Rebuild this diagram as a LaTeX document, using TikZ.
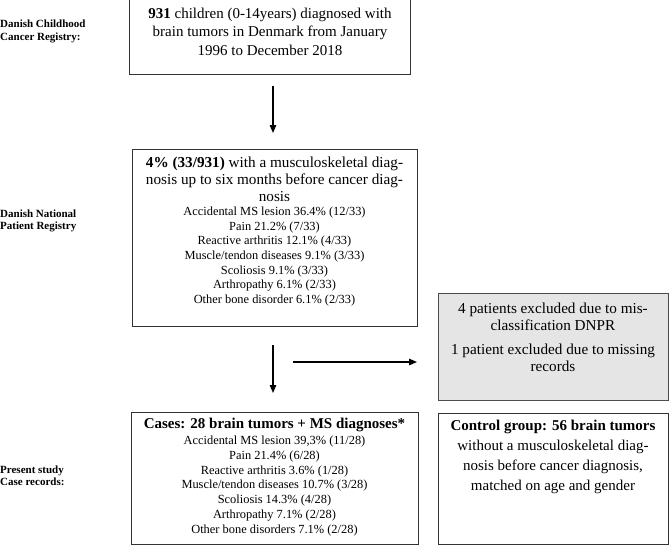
\documentclass[tikz,border=0pt]{standalone}
\usepackage{fontspec}
\setmainfont{Liberation Serif}
\usetikzlibrary{arrows.meta}
\begin{document}
\begin{tikzpicture}[x=1pt,y=-1pt,
  box/.style={draw=black!80, line width=1.3pt, inner sep=0pt, anchor=north west},
  graybox/.style={box, draw=black!70, line width=1pt, fill=black!10},
  arr/.style={line width=1.3pt, -{Triangle[length=8pt,width=6.5pt]}},
  big/.style={align=center, inner sep=0pt, font=\fontsize{15}{18.5}\selectfont},
  head/.style={align=center, inner sep=0pt, font=\fontsize{15.2}{17}\selectfont},
  list/.style={align=center, inner sep=0pt, font=\fontsize{12.4}{14.7}\selectfont},
  side/.style={align=left, anchor=west, inner sep=0pt, font=\fontsize{11}{12.5}\selectfont\bfseries}
]
\useasboundingbox (0,0) rectangle (669,546);

% boxes
\node[box, minimum width=281pt, minimum height=75pt] (b1) at (129,-1) {};
\node[box, minimum width=285pt, minimum height=177pt] (b2) at (132,149) {};
\node[graybox, minimum width=230pt, minimum height=107pt] (b3) at (438,293) {};
\node[box, minimum width=287pt, minimum height=132pt] (b4) at (131,412) {};
\node[box, minimum width=230pt, minimum height=131pt] (b5) at (438,413) {};

% side labels
\node[side] (l1) at (0,31.5) {Danish Childhood\\Cancer Registry:};
\node[side] (l2) at (0,221) {Danish National\\Patient Registry};
\node[side] (l3) at (0,476) {Present study\\Case records:};

% box texts
\node[big] (t1) at (270,31.5) {\textbf{931} children (0-14years) diagnosed with\\brain tumors in Denmark from January\\1996 to December 2018};

\node[head] (t2h) at (274.5,179) {\textbf{4\% (33/931)} with a musculoskeletal diag-\\nosis up to six months before cancer diag-\\nosis};
\node[list] (t2l) at (274.5,256.5) {Accidental MS lesion 36.4\% (12/33)\\Pain 21.2\% (7/33)\\Reactive arthritis 12.1\% (4/33)\\Muscle/tendon diseases 9.1\% (3/33)\\Scoliosis 9.1\% (3/33)\\Arthropathy 6.1\% (2/33)\\Other bone disorder 6.1\% (2/33)};

\node[head] (t3a) at (553,316.5) {4 patients excluded due to mis-\\classification DNPR};
\node[head] (t3b) at (553,357.5) {1 patient excluded due to missing\\records};

\node[head, font=\fontsize{15}{17}\selectfont\bfseries] (t4h) at (274.5,425) {Cases: 28 brain tumors + MS diagnoses*};
\node[list] (t4l) at (274.5,486) {Accidental MS lesion 39,3\% (11/28)\\Pain 21.4\% (6/28)\\Reactive arthritis 3.6\% (1/28)\\Muscle/tendon diseases 10.7\% (3/28)\\Scoliosis 14.3\% (4/28)\\Arthropathy 7.1\% (2/28)\\Other bone disorders 7.1\% (2/28)};

\node[big, font=\fontsize{15}{20}\selectfont] (t5) at (553,457) {\textbf{Control group: 56 brain tumors}\\without a musculoskeletal diag-\\nosis before cancer diagnosis,\\matched on age and gender};

% arrows
\coordinate (a1s) at (273,86);
\coordinate (a1e) at (273,133);
\coordinate (a2s) at (273,345);
\coordinate (a2e) at (273,393);
\coordinate (a3s) at (293,362);
\coordinate (a3e) at (417,362);
\draw[arr] (a1s) -- (a1e);
\draw[arr] (a2s) -- (a2e);
\draw[arr] (a3s) -- (a3e);
\end{tikzpicture}
\end{document}
